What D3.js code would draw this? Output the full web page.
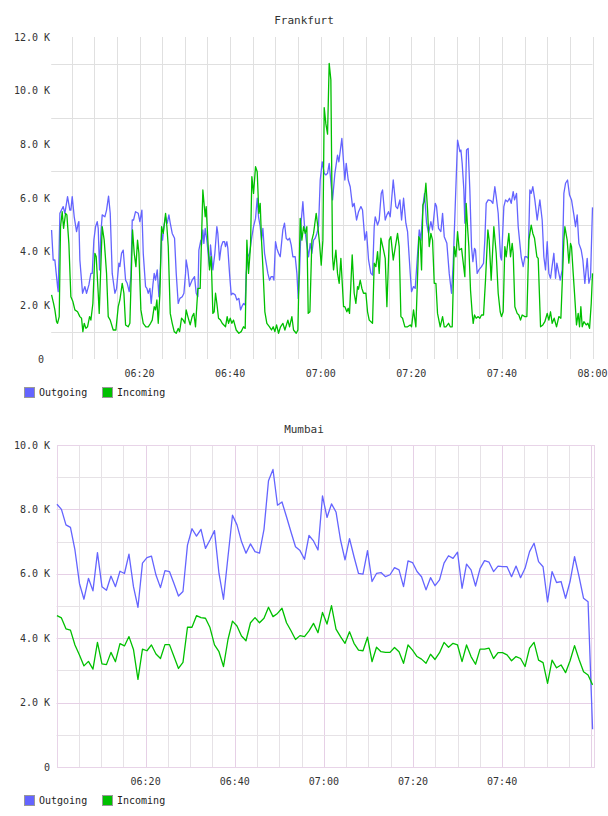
<!DOCTYPE html>
<html><head><meta charset="utf-8">
<script src="https://cdn.jsdelivr.net/npm/d3@7"></script>
<style>
html,body{margin:0;padding:0;background:#fff;}
svg{display:block;}
text{font-family:"DejaVu Sans Mono",monospace;}
</style></head>
<body>
<script>
// ---------- DATA ----------
// Frankfurt: [minutes after 06:00, value in K]
const fraOutgoing = [
[0.58,4.81],[0.94,3.69],[1.31,3.69],[1.90,2.70],[2.05,2.51],[2.42,5.43],[3.15,5.68],[3.52,5.43],[4.11,6.05],[4.62,5.55],[4.84,5.55],[5.14,6.05],[5.58,5.30],[6.10,4.75],[6.46,5.06],[6.61,5.12],[6.83,3.69],[7.42,2.45],[7.94,2.70],[8.30,2.45],[8.82,2.76],[9.26,3.19],[9.56,3.19],[9.92,4.43],[10.29,4.93],[10.66,5.12],[10.88,4.87],[11.17,3.32],[11.47,4.68],[11.76,5.37],[12.35,5.30],[12.72,5.55],[13.16,6.07],[13.53,5.43],[13.97,3.19],[14.56,2.45],[14.93,2.63],[15.44,3.57],[15.66,3.44],[16.03,3.94],[16.40,4.06],[16.92,2.94],[17.28,2.82],[17.72,2.51],[18.09,3.07],[18.39,5.18],[18.68,5.18],[19.12,5.49],[19.71,5.43],[20.08,5.12],[20.52,5.55],[20.82,3.94],[21.33,2.70],[21.63,2.63],[21.92,2.45],[22.29,2.63],[22.58,2.07],[22.95,2.76],[23.24,3.19],[23.54,2.94],[23.91,3.32],[24.28,2.32],[24.57,3.19],[24.86,4.68],[25.08,4.43],[25.38,4.93],[25.75,5.30],[26.12,5.06],[26.48,5.37],[26.78,5.06],[27.22,4.68],[27.73,4.50],[28.10,3.19],[28.54,2.07],[28.91,2.26],[29.43,2.32],[29.80,2.45],[30.16,3.19],
[30.30,3.69],[30.67,3.32],[31.04,2.70],[31.62,2.94],[32.14,3.07],[32.51,2.45],[32.88,2.32],[33.10,4.06],[33.54,4.43],[33.69,4.25],[33.98,4.81],[34.20,4.31],[34.50,4.87],[34.86,4.43],[35.45,3.44],[35.67,4.25],[36.19,3.32],[36.63,3.94],[37.07,4.93],[37.29,4.68],[37.66,3.69],[38.03,4.19],[38.40,4.37],[38.76,4.37],[38.98,4.19],[39.28,4.37],[39.50,4.12],[39.87,3.19],[40.24,2.39],[40.60,2.45],[41.12,2.39],[41.49,2.20],[41.93,2.26],[42.30,1.83],[42.59,1.95],[42.96,2.07],[43.33,2.01],[43.55,3.19],[43.92,3.81],[44.28,3.94],[44.80,4.56],[45.17,4.93],[45.61,5.24],[45.98,5.99],[46.27,5.30],[46.64,4.93],[46.93,4.43],[47.23,4.87],[47.60,3.94],[47.96,3.57],[48.33,3.19],[48.70,2.94],[49.07,3.07],[49.44,3.07],[49.66,2.94],[50.02,4.37],[50.32,4.12],[50.69,3.94],[51.06,3.81],[51.64,4.81],[52.01,5.06],[52.38,4.50],[52.75,4.43],[53.12,4.50],[53.48,4.25],[53.85,3.81],[54.37,3.81],[54.74,3.19],[55.03,2.26],[55.32,3.19],[55.69,5.12],[56.06,5.86],[56.43,4.93],[56.80,4.43],[57.31,3.81],[57.68,4.31],[58.05,3.94],[58.42,4.43],[58.78,4.50],[59.15,4.68],[59.52,4.93],[59.89,6.67],[60.33,7.35],
[60.77,6.92],[61.14,6.86],[61.51,6.92],[61.87,7.29],[62.61,5.93],[63.13,6.92],[63.71,7.60],[64.01,7.35],[64.67,8.22],[65.33,6.67],[65.63,7.29],[66.07,6.67],[66.51,6.42],[67.03,5.68],[67.39,5.80],[67.91,5.18],[68.35,5.49],[68.87,5.68],[69.23,5.55],[69.75,4.43],[70.12,4.75],[70.56,3.69],[71.07,3.19],[71.44,3.13],[71.81,4.93],[72.03,5.30],[72.55,4.99],[72.91,5.18],[73.36,6.17],[73.65,6.30],[74.24,5.18],[74.61,5.37],[74.97,5.49],[75.34,5.30],[76.01,6.67],[76.59,5.68],[76.96,5.61],[77.48,5.93],[77.85,5.18],[78.29,5.99],[78.80,5.06],[79.17,4.75],[79.76,3.19],[80.05,2.51],[80.49,2.70],[80.86,2.63],[81.75,4.81],[82.11,4.43],[82.63,5.80],[82.92,6.17],[83.37,5.06],[83.81,4.68],[84.32,5.12],[84.69,4.81],[85.28,5.80],[85.57,5.68],[86.01,4.87],[86.53,4.75],[86.90,5.43],[87.27,4.56],[87.85,4.31],[88.37,3.19],[88.88,2.45],[89.25,3.57],[90.21,8.16],[90.73,7.73],[90.95,7.79],
[91.23,7.29],[91.60,6.30],[91.82,5.06],[92.19,7.79],[92.55,7.85],[92.92,6.30],[93.29,4.19],[93.59,3.63],[93.95,4.12],[94.17,4.06],[94.54,3.19],[94.91,3.32],[95.50,3.44],[95.94,3.57],[96.23,4.43],[96.53,5.80],[96.97,5.93],[97.56,5.90],[98.00,5.80],[98.44,6.42],[98.74,6.05],[99.18,5.43],[99.69,3.81],[99.91,3.69],[100.43,5.68],[100.80,5.93],[101.24,5.86],[101.68,5.99],[102.05,5.80],[102.49,6.24],[102.79,5.93],[103.23,6.17],[103.60,4.93],[103.89,4.43],[104.26,3.81],[104.70,3.44],[105.07,3.81],[105.43,3.81],[105.80,3.75],[106.17,6.30],[106.47,6.17],[106.83,6.42],[107.27,5.93],[107.79,5.18],[108.38,5.93],[108.89,5.18],[109.26,3.81],[109.63,3.32],[110.00,4.37],[110.37,3.19],[110.73,3.01],[111.47,3.94],[111.84,3.01],[112.13,3.57],[112.57,3.19],[112.87,2.94],[113.31,3.32],[113.68,6.17],[114.05,6.55],[114.49,6.67],[114.93,6.11],[115.37,5.93],[115.89,5.37],[116.25,4.93],[116.62,5.37],[116.99,4.31],[117.51,4.06],[117.87,3.69],[118.31,2.82],[118.83,3.75],[119.20,2.82],[119.57,3.07],[120.00,5.65]
];
const fraIncoming = [
[0.58,2.39],[1.02,2.07],[1.31,1.83],[1.68,1.39],[1.90,1.33],[2.27,1.58],[2.56,4.93],[2.93,5.49],[3.23,4.87],[3.67,5.43],[3.96,5.37],[4.40,4.31],[4.84,2.32],[5.29,2.14],[5.73,1.83],[6.32,1.76],[6.83,1.58],[7.20,1.52],[7.49,1.02],[7.79,1.33],[8.16,1.14],[8.52,1.20],[8.97,1.58],[9.26,1.45],[9.70,2.07],[10.14,3.94],[10.44,3.81],[10.88,2.45],[11.10,1.70],[11.76,4.93],[12.20,4.43],[12.72,3.19],[13.09,1.58],[13.53,1.45],[14.19,1.08],[14.78,1.08],[15.30,1.95],[15.66,2.20],[16.18,2.82],[16.55,2.45],[16.92,1.27],[17.50,1.20],[17.87,1.33],[18.46,4.81],[18.83,3.94],[19.20,3.44],[19.56,4.43],[19.86,3.94],[20.30,1.83],[20.82,1.33],[21.40,1.20],[21.92,1.20],[22.44,1.33],[22.80,1.45],[23.24,1.95],[23.54,1.83],[23.83,2.20],[24.13,1.33],[24.50,2.45],[24.86,4.93],[25.23,4.68],[25.75,5.43],[26.04,4.93],[26.34,4.19],[26.78,1.70],[27.22,1.33],[27.66,1.02],[28.10,0.96],[28.54,1.14],[28.84,1.02],[29.28,1.52],[29.65,1.45],[30.02,1.33],
[30.30,1.83],[30.67,1.58],[31.18,1.27],[31.62,1.58],[31.99,1.70],[32.36,1.20],[32.88,2.63],[33.39,2.63],[33.98,6.30],[34.50,5.30],[34.72,5.68],[35.08,4.43],[35.45,3.32],[35.82,3.81],[36.19,1.70],[36.48,1.76],[36.78,2.45],[37.07,2.07],[37.44,1.52],[37.88,1.45],[38.25,1.33],[38.98,1.20],[39.35,1.58],[39.65,1.33],[40.02,1.52],[40.38,1.33],[40.75,1.45],[41.34,1.08],[41.93,0.96],[42.44,1.02],[42.96,1.20],[43.33,1.14],[43.70,4.43],[44.06,3.19],[44.50,4.19],[44.80,6.80],[45.17,6.17],[45.61,7.17],[45.98,6.98],[46.34,5.43],[46.64,5.80],[46.93,4.43],[47.23,3.44],[47.67,1.76],[48.11,1.33],[48.70,1.20],[49.14,1.08],[49.51,1.20],[49.88,1.02],[50.25,1.27],[50.69,0.96],[51.13,1.20],[51.64,1.33],[52.09,1.08],[52.75,1.45],[53.12,1.20],[53.63,1.58],[54.00,1.08],[54.59,0.96],[54.96,1.08],[55.47,5.24],[55.84,4.43],[56.21,4.93],[56.58,4.68],[56.94,4.93],[57.24,1.70],[57.61,1.76],[58.05,4.43],[58.42,4.68],[58.71,5.06],[59.00,5.43],[59.37,4.93],[59.74,4.31],[60.11,3.50],[60.48,4.43],
[60.77,9.37],[61.14,8.76],[61.51,8.38],[61.87,11.02],[62.24,10.40],[62.61,3.81],[62.83,3.32],[63.35,4.06],[63.71,3.19],[64.08,2.82],[64.45,3.75],[65.04,1.95],[65.33,1.95],[65.77,1.76],[66.07,1.89],[66.36,1.70],[66.95,3.88],[67.39,2.45],[67.76,2.07],[68.13,2.70],[68.35,2.60],[68.72,2.94],[69.09,2.63],[69.45,2.45],[69.97,2.45],[70.34,1.76],[70.71,1.45],[71.44,1.33],[71.81,3.57],[72.18,3.44],[72.55,4.00],[72.91,3.19],[73.28,4.50],[73.87,4.06],[74.24,3.75],[74.61,1.95],[75.12,4.43],[75.49,4.56],[76.01,3.69],[76.96,4.68],[77.33,4.19],[77.70,1.58],[78.07,1.52],[78.58,1.20],[79.17,1.20],[79.76,1.27],[80.05,1.20],[80.49,1.83],[81.01,1.20],[81.67,4.56],[81.97,4.43],[82.26,3.32],[82.56,5.74],[82.85,5.86],[83.22,6.55],[83.59,5.55],[83.95,4.19],[84.32,4.68],[84.69,4.43],[85.06,2.82],[85.43,2.82],[85.79,1.70],[86.38,1.20],[86.90,1.58],[87.27,1.20],[87.63,1.20],[88.22,1.33],[88.59,1.20],[89.03,1.20],[89.47,4.19],[89.84,3.81],[90.21,4.75],[90.58,4.06],[91.09,4.12],
[91.82,3.07],[92.11,5.80],[92.41,4.93],[92.70,4.19],[93.07,2.57],[93.44,1.70],[93.66,1.33],[93.95,1.64],[94.32,1.52],[94.76,1.58],[95.13,1.52],[95.50,1.64],[95.94,1.64],[96.38,2.94],[96.90,4.81],[97.19,4.43],[97.63,2.94],[98.22,4.93],[98.74,3.94],[99.18,2.45],[99.62,1.76],[99.91,1.58],[100.28,1.76],[100.65,4.19],[100.95,3.81],[101.53,4.68],[101.90,3.81],[102.27,4.31],[102.49,3.94],[102.86,1.95],[103.37,1.70],[103.74,1.64],[104.11,1.45],[104.48,1.64],[105.07,1.58],[105.51,1.58],[105.95,4.43],[106.47,4.99],[106.83,4.68],[107.20,4.50],[107.72,3.81],[108.01,3.75],[108.53,1.20],[109.04,1.27],[109.48,1.39],[110.00,1.70],[110.37,1.45],[110.73,1.76],[111.10,1.33],[111.54,1.52],[112.06,1.20],[112.57,1.58],[113.02,1.52],[113.68,4.43],[113.90,4.93],[114.41,4.43],[114.78,3.57],[115.15,4.31],[115.37,4.19],[115.74,3.19],[116.03,2.45],[116.47,1.27],[116.84,1.70],[117.14,1.20],[117.43,1.95],[117.73,1.20],[118.10,1.39],[118.61,1.27],[118.98,1.33],[119.35,1.14],[119.72,2.07],[120.00,3.19]
];

// Mumbai: regular samples (start 06:00:06, step 60.6 s), values in K
const mumStartSec = 6;
const mumStepSec = 60.6;
const mumOutgoing = [8.16,8.00,7.52,7.44,6.74,5.70,5.21,5.86,5.47,6.66,5.60,5.49,5.93,5.60,6.08,6.01,6.61,5.60,4.96,6.33,6.50,6.55,5.96,5.57,6.10,6.07,5.70,5.31,5.45,6.89,7.40,7.17,7.38,6.79,7.05,7.34,6.01,5.21,6.53,7.82,7.52,7.00,6.64,6.93,6.69,6.64,7.38,8.89,9.24,8.13,8.23,7.77,7.30,6.84,6.72,6.45,7.19,7.02,6.74,8.42,7.75,8.17,7.92,7.05,6.43,7.09,6.53,6.01,5.99,6.72,5.76,6.01,6.04,5.91,5.97,6.19,6.12,5.60,6.40,6.35,6.07,5.91,5.50,5.88,5.63,5.81,6.33,6.56,6.48,6.67,5.55,6.30,6.12,5.62,6.16,6.41,6.36,6.07,6.24,6.22,6.22,5.91,6.24,5.88,6.17,6.69,6.95,6.38,6.22,5.13,6.07,5.73,5.76,5.24,5.76,6.53,5.91,5.24,5.13,1.17];
const mumIncoming = [4.70,4.63,4.29,4.25,3.79,3.48,3.14,3.28,3.04,3.87,3.20,3.18,3.56,3.27,3.83,3.76,4.05,3.65,2.72,3.66,3.61,3.79,3.51,3.37,3.80,3.80,3.43,3.06,3.25,4.34,4.34,4.70,4.64,4.62,4.33,3.79,3.58,3.12,3.96,4.53,4.38,4.07,3.92,4.48,4.64,4.48,4.62,4.96,4.67,4.77,4.93,4.48,4.23,3.96,4.08,4.05,4.23,4.46,4.17,4.80,4.44,5.01,4.28,4.05,3.84,4.20,3.84,3.63,3.61,4.03,3.27,3.72,3.58,3.56,3.56,3.71,3.58,3.22,3.79,3.63,3.43,3.35,3.22,3.50,3.34,3.55,3.87,3.72,3.84,3.79,3.27,3.79,3.43,3.19,3.66,3.66,3.69,3.37,3.55,3.55,3.48,3.30,3.43,3.37,3.12,3.69,3.87,3.32,3.24,2.60,3.32,3.08,3.17,2.93,3.30,3.77,3.34,2.96,2.86,2.55];

const seriesNames = ["Outgoing","Incoming"];
const seriesColors = ["#6464ff","#00c000"];
const fraXTickLabels = ["06:20","06:40","07:00","07:20","07:40","08:00"];
const mumXTickLabels = ["06:20","06:40","07:00","07:20","07:40"];
const fraYTicks = [0,2,4,6,8,10,12];
const mumYTicks = [0,2,4,6,8,10];
const fraHGrid = [1,3,5,7,9,11];
const mumHGridMinor = [1,3,5,7,9];
const mumHGridMajor = [2,4,6,8];

// ---------- DRAW ----------
const W = 608, H = 816;
const svg = d3.select("body").append("svg").attr("width", W).attr("height", H);
const day = [2020,0,1];
const at = m => new Date(new Date(...day,6,0,0).getTime() + m*60000);
const hm = s => { const [h,m] = s.split(":").map(Number); return new Date(...day,h,m,0); };
const crisp = v => Math.round(v) + 0.5;
const fmtY = v => v === 0 ? "0" : v.toFixed(1) + " K";

function panel(cfg) {
  const x = d3.scaleTime().domain([at(cfg.t0), at(cfg.t1)]).range([cfg.left, cfg.right]);
  const y = d3.scaleLinear().domain([0, cfg.ymax]).range([cfg.bottom, cfg.top]);
  const g = svg.append("g");

  // vertical grid (every 5 min)
  const vt = d3.timeMinute.every(5).range(at(cfg.t0 + 0.01), at(cfg.t1 + 0.01));
  vt.forEach(d => {
    const major = cfg.majorColor && d.getMinutes() % 20 === 0;
    g.append("line")
      .attr("x1", crisp(x(d))).attr("x2", crisp(x(d)))
      .attr("y1", cfg.top).attr("y2", cfg.bottom)
      .attr("stroke", major ? cfg.majorColor : cfg.minorColor).attr("stroke-width", 1);
  });
  // horizontal grid
  cfg.hMinor.forEach(v => g.append("line")
    .attr("x1", cfg.left).attr("x2", cfg.right)
    .attr("y1", crisp(y(v))).attr("y2", crisp(y(v)))
    .attr("stroke", cfg.minorColor));
  (cfg.hMajor || []).forEach(v => g.append("line")
    .attr("x1", cfg.left).attr("x2", cfg.right)
    .attr("y1", crisp(y(v))).attr("y2", crisp(y(v)))
    .attr("stroke", cfg.majorColor));
  if (cfg.border) {
    g.append("rect")
      .attr("x", crisp(cfg.left)).attr("y", crisp(cfg.top))
      .attr("width", Math.round(cfg.right) - Math.round(cfg.left))
      .attr("height", Math.round(cfg.bottom) - Math.round(cfg.top))
      .attr("fill", "none").attr("stroke", cfg.border);
  }

  // lines
  const line = d3.line().x(d => x(at(d[0]))).y(d => y(d[1]));
  cfg.series.forEach((s, i) => {
    g.append("path").datum(s)
      .attr("d", line)
      .attr("fill", "none").attr("stroke", seriesColors[i])
      .attr("stroke-width", 1.3).attr("stroke-linejoin", "round");
  });

  // y labels
  cfg.yTicks.forEach(v => g.append("text")
    .attr("x", v === 0 ? cfg.zeroX : 50).attr("y", y(v)).attr("dy", "0.35em")
    .attr("text-anchor", "end").attr("font-size", 10).attr("fill", "#333")
    .text(fmtY(v)));
  // x labels
  cfg.xTicks.forEach(s => g.append("text")
    .attr("x", x(hm(s))).attr("y", cfg.xLabelY)
    .attr("text-anchor", "middle").attr("font-size", 10).attr("fill", "#333")
    .text(s));
  // title
  g.append("text").attr("x", 304).attr("y", cfg.titleY)
    .attr("text-anchor", "middle").attr("font-size", 11).attr("fill", "#333")
    .text(cfg.title);
  // legend
  const lx = [24.5, 102.5];
  seriesNames.forEach((n, i) => {
    g.append("rect").attr("x", lx[i]).attr("y", cfg.legendY - 5)
      .attr("width", 10).attr("height", 10)
      .attr("fill", seriesColors[i]).attr("stroke", "#999");
    g.append("text").attr("x", lx[i] + 14.5).attr("y", cfg.legendY).attr("dy", "0.35em")
      .attr("font-size", 10).attr("fill", "#222").text(n);
  });
}

panel({
  title: "Frankfurt", titleY: 24,
  t0: 0.5, t1: 120, left: 51.2, right: 592.5, top: 37, bottom: 359, ymax: 12,
  minorColor: "#e0e0e0", majorColor: null, border: null,
  hMinor: fraHGrid, yTicks: fraYTicks, zeroX: 44, xTicks: fraXTickLabels, xLabelY: 377,
  legendY: 392.5,
  series: [fraOutgoing, fraIncoming]
});

const mumTime = i => (mumStartSec + i * mumStepSec) / 60;
panel({
  title: "Mumbai", titleY: 433,
  t0: 0, t1: 120.5, left: 56.5, right: 593.5, top: 445, bottom: 767, ymax: 10,
  minorColor: "#e6e2e6", majorColor: "#e6d0e6", border: "#e8d4e8",
  hMinor: mumHGridMinor, hMajor: mumHGridMajor, yTicks: mumYTicks, zeroX: 50,
  xTicks: mumXTickLabels, xLabelY: 785,
  legendY: 800.5,
  series: [mumOutgoing.map((v, i) => [mumTime(i), v]), mumIncoming.map((v, i) => [mumTime(i), v])]
});
</script>
</body></html>
